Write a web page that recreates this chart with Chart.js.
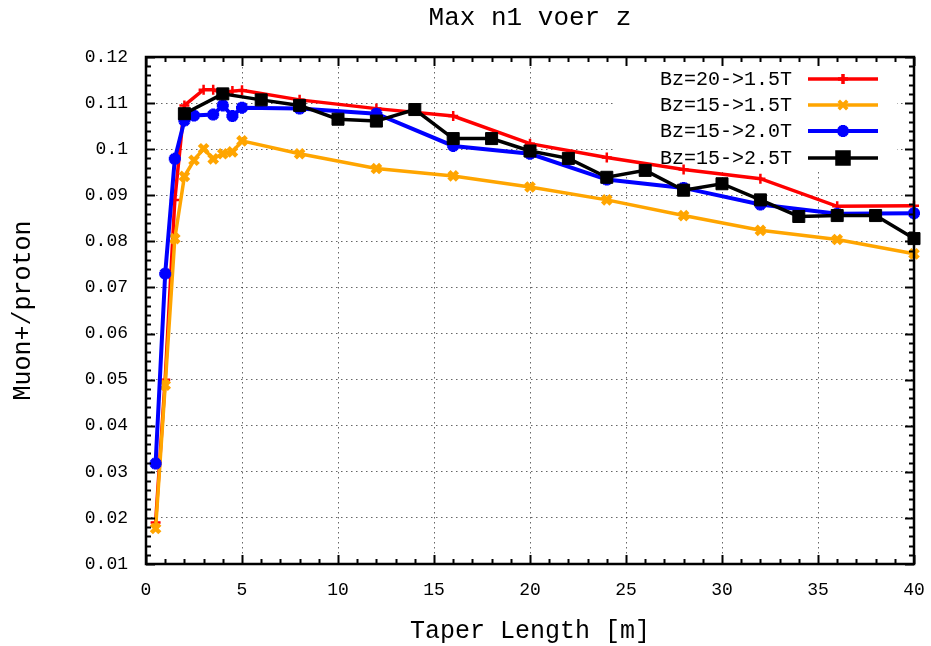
<!DOCTYPE html>
<html>
<head>
<meta charset="utf-8">
<script src="https://cdn.jsdelivr.net/npm/chart.js@4/dist/chart.umd.min.js"></script>
<style>
  html, body { margin: 0; padding: 0; background: #fff; }
  #wrap { width: 931px; height: 646px; }
</style>
</head>
<body>
<div id="wrap"><canvas id="myChart" width="931" height="646"></canvas></div>
<script>
// Data
const titleText = 'Max n1 voer z';
const xTitle = 'Taper Length [m]';
const yTitle = 'Muon+/proton';

const seriesLabels = ['Bz=20->1.5T', 'Bz=15->1.5T', 'Bz=15->2.0T', 'Bz=15->2.5T'];

const redX = [0.5, 1, 1.5, 2, 3, 3.5, 4, 4.5, 5, 8, 12, 16, 20, 24, 28, 32, 36, 40];
const redY = [0.019, 0.050, 0.089, 0.1095, 0.1129, 0.1129, 0.1121, 0.1126, 0.1128, 0.1107,
              0.1088, 0.1072, 0.1012, 0.0982, 0.0956, 0.0936, 0.0876, 0.0877];

const orangeX = [0.5, 1, 1.5, 2, 2.5, 3, 3.5, 4, 4.5, 5, 8, 12, 16, 20, 24, 28, 32, 36, 40];
const orangeY = [0.0177, 0.0488, 0.0806, 0.0941, 0.0976, 0.1001, 0.0979, 0.0990, 0.0994, 0.1018,
                 0.0990, 0.0958, 0.0942, 0.0918, 0.0890, 0.0856, 0.0824, 0.0804, 0.0773];

const blueX = [0.5, 1, 1.5, 2, 2.5, 3.5, 4, 4.5, 5, 8, 12, 16, 20, 24, 28, 32, 36, 40];
const blueY = [0.0318, 0.0730, 0.0979, 0.1062, 0.1073, 0.1075, 0.1095, 0.1072, 0.1090, 0.1088,
               0.1077, 0.1007, 0.0990, 0.0934, 0.0916, 0.0880, 0.0860, 0.0861];

const blackX = [2, 4, 6, 8, 10, 12, 14, 16, 18, 20, 22, 24, 26, 28, 30, 32, 34, 36, 38, 40];
const blackY = [0.1077, 0.1120, 0.1107, 0.1095, 0.1065, 0.1061, 0.1086, 0.1023, 0.1023, 0.0996,
                0.0980, 0.0939, 0.0954, 0.0911, 0.0925, 0.0890, 0.0854, 0.0856, 0.0856, 0.0806];

const xTicks = [0, 5, 10, 15, 20, 25, 30, 35, 40];
const yTicks = [0.01, 0.02, 0.03, 0.04, 0.05, 0.06, 0.07, 0.08, 0.09, 0.1, 0.11, 0.12];

const FONT = '"Liberation Mono", "DejaVu Sans Mono", monospace';

function pts(xs, ys) {
    return xs.map((x, i) => ({ x: x, y: ys[i] }));
}

// frame with inward major/minor ticks on all sides, title, legend
const framePlugin = {
    id: 'frame',
    beforeDatasetsDraw(chart) {
        const ctx = chart.ctx;
        ctx.save();
        ctx.fillStyle = '#fff';
        ctx.fillRect(615, 66, 282, 104);
        ctx.restore();
    },
    afterDraw(chart) {
        const ctx = chart.ctx;
        const a = chart.chartArea;
        const xs = chart.scales.x, ys = chart.scales.y;
        ctx.save();
        ctx.strokeStyle = '#000';
        ctx.lineWidth = 2;
        // minor/major ticks
        ctx.beginPath();
        for (let i = 0; i <= 40; i++) {
            const px = Math.round(xs.getPixelForValue(i)) + 0.5;
            const len = i % 5 === 0 ? 9 : 5;
            ctx.moveTo(px, a.bottom); ctx.lineTo(px, a.bottom - len);
            ctx.moveTo(px, a.top); ctx.lineTo(px, a.top + len);
        }
        for (let i = 5; i <= 60; i++) {
            const py = Math.round(ys.getPixelForValue(i * 0.002)) + 0.5;
            const len = i % 5 === 0 ? 9 : 5;
            ctx.moveTo(a.left, py); ctx.lineTo(a.left + len, py);
            ctx.moveTo(a.right, py); ctx.lineTo(a.right - len, py);
        }
        ctx.stroke();
        ctx.lineWidth = 2.5;
        ctx.strokeRect(a.left, a.top, a.right - a.left, a.bottom - a.top);

        // title
        ctx.fillStyle = '#000';
        ctx.font = '26px ' + FONT;
        ctx.textAlign = 'center';
        ctx.textBaseline = 'middle';
        ctx.fillText(titleText, (a.left + a.right) / 2, 18);

        // legend
        ctx.font = '20px ' + FONT;
        ctx.textAlign = 'right';
        const rows = [79, 105, 131, 158];
        chart.data.datasets.forEach((ds, i) => {
            const y = rows[i];
            ctx.fillStyle = '#000';
            ctx.fillText(ds.label, 792, y + 1);
            ctx.strokeStyle = ds.borderColor;
            ctx.lineWidth = ds.borderWidth;
            ctx.beginPath();
            ctx.moveTo(808, y); ctx.lineTo(878, y);
            ctx.stroke();
            ctx.fillStyle = ds.pointBackgroundColor;
            ctx.strokeStyle = ds.pointBorderColor;
            Chart.helpers.drawPoint(ctx, {
                pointStyle: ds.pointStyle,
                radius: ds.pointRadius,
                borderWidth: ds.pointBorderWidth,
                rotation: 0
            }, 843, y);
        });
        ctx.restore();
    }
};

const ctx = document.getElementById('myChart').getContext('2d');
const myChart = new Chart(ctx, {
    type: 'line',
    data: {
        datasets: [{
            label: seriesLabels[0],
            data: pts(redX, redY),
            borderColor: '#ff0000',
            borderWidth: 3.5,
            pointStyle: 'cross',
            pointRadius: 5,
            pointBorderWidth: 2.5,
            pointBorderColor: '#ff0000',
            pointBackgroundColor: '#ff0000',
            clip: false,
            order: 4
        }, {
            label: seriesLabels[1],
            data: pts(orangeX, orangeY),
            borderColor: '#ffa500',
            borderWidth: 3.5,
            pointStyle: 'crossRot',
            pointRadius: 6,
            pointBorderWidth: 4.5,
            pointBorderColor: '#ffa500',
            pointBackgroundColor: '#ffa500',
            clip: false,
            order: 3
        }, {
            label: seriesLabels[2],
            data: pts(blueX, blueY),
            borderColor: '#0000ff',
            borderWidth: 4,
            pointStyle: 'star',
            pointRadius: 6,
            pointBorderWidth: 4,
            pointBorderColor: '#0000ff',
            pointBackgroundColor: '#0000ff',
            clip: false,
            order: 2
        }, {
            label: seriesLabels[3],
            data: pts(blackX, blackY),
            borderColor: '#000000',
            borderWidth: 3.5,
            pointStyle: 'rect',
            pointRadius: 8.5,
            pointBorderWidth: 1,
            pointBorderColor: '#000000',
            pointBackgroundColor: '#000000',
            clip: false,
            order: 1
        }]
    },
    options: {
        responsive: false,
        animation: false,
        layout: { padding: { left: 0, right: 17, top: 57, bottom: 0 } },
        plugins: {
            legend: { display: false },
            title: { display: false },
            tooltip: { enabled: false }
        },
        elements: { line: { tension: 0 } },
        scales: {
            x: {
                type: 'linear',
                min: 0,
                max: 40,
                afterFit: s => { s.height = 82; s.paddingLeft = 0; s.paddingRight = 0; },
                afterBuildTicks: s => { s.ticks = xTicks.map(v => ({ value: v })); },
                ticks: { padding: 15, color: '#000', font: { family: FONT, size: 18 }, maxRotation: 0 },
                grid: { color: 'rgba(0,0,0,0.6)', lineWidth: 1, drawTicks: false },
                border: { display: false, dash: [1.5, 3.5] },
                title: { display: true, text: xTitle, color: '#000', font: { family: FONT, size: 25 }, padding: { top: 0, bottom: 0 } }
            },
            y: {
                min: 0.01,
                max: 0.12,
                afterFit: s => { s.width = 146; s.paddingTop = 0; s.paddingBottom = 0; },
                afterBuildTicks: s => { s.ticks = yTicks.map(v => ({ value: v })); },
                ticks: { padding: 18, color: '#000', font: { family: FONT, size: 18 }, callback: v => String(+v.toFixed(3)) },
                grid: { color: 'rgba(0,0,0,0.6)', lineWidth: 1, drawTicks: false },
                border: { display: false, dash: [1.5, 3.5] },
                title: { display: true, text: yTitle, color: '#000', font: { family: FONT, size: 25 }, padding: { top: 8, bottom: 0 } }
            }
        }
    },
    plugins: [framePlugin]
});
</script>
</body>
</html>
